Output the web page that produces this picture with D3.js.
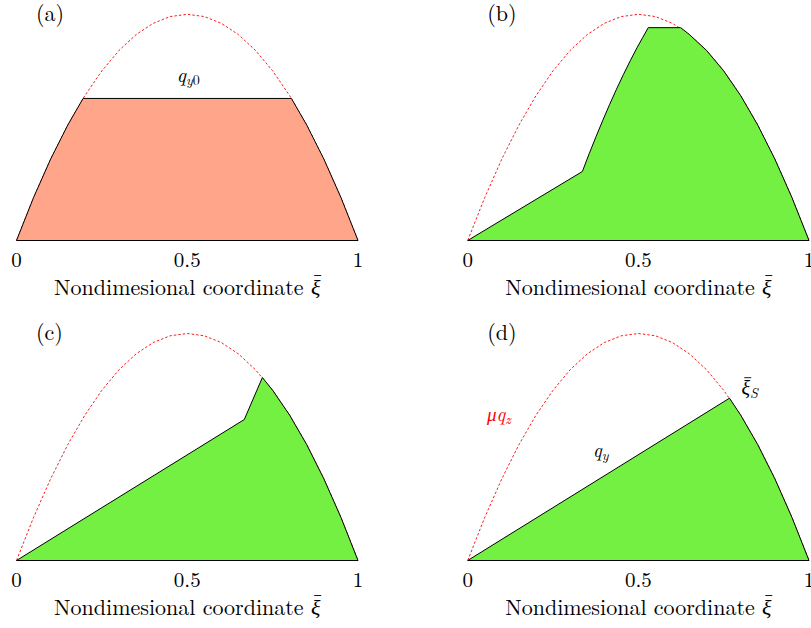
<!DOCTYPE html>
<html>
<head>
<meta charset="utf-8">
<script src="https://cdn.jsdelivr.net/npm/d3@7"></script>
<style>
  body { margin: 0; background: #fff; }
  text { font-family: "Latin Modern Roman", "CMU Serif", "Liberation Serif", serif; fill: #000; }
</style>
</head>
<body>
<script>
// chart data
var panelNames = ["(a)", "(b)", "(c)", "(d)"];
var tickValues = [0, 0.5, 1];
var tickLabels = ["0", "0.5", "1"];

// dashed friction limit mu*q_z
var limitX = [0, 0.05, 0.1, 0.15, 0.2, 0.25, 0.3, 0.35, 0.4, 0.45, 0.5, 0.55, 0.6, 0.65, 0.7, 0.75, 0.8, 0.85, 0.9, 0.95, 1];
var limitQ = [0, 0.19, 0.36, 0.51, 0.64, 0.75, 0.84, 0.91, 0.96, 0.99, 1, 0.99, 0.96, 0.91, 0.84, 0.75, 0.64, 0.51, 0.36, 0.19, 0];

// traction distributions q_y
var aX = [0, 0.05, 0.1, 0.15, 0.195, 0.805, 0.85, 0.9, 0.95, 1];
var aQ = [0, 0.19, 0.36, 0.51, 0.628, 0.628, 0.51, 0.36, 0.19, 0];

var bX = [0, 0.336, 0.356, 0.376, 0.396, 0.416, 0.436, 0.456, 0.476, 0.496, 0.513, 0.529, 0.624, 0.65, 0.7, 0.75, 0.8, 0.85, 0.9, 0.95, 1];
var bQ = [0, 0.305, 0.384, 0.459, 0.532, 0.602, 0.669, 0.733, 0.794, 0.852, 0.898, 0.941, 0.941, 0.91, 0.84, 0.75, 0.64, 0.51, 0.36, 0.19, 0];

var cX = [0, 0.667, 0.72, 0.75, 0.8, 0.85, 0.9, 0.95, 1];
var cQ = [0, 0.621, 0.806, 0.75, 0.64, 0.51, 0.36, 0.19, 0];

var dX = [0, 0.767, 0.8, 0.85, 0.9, 0.95, 1];
var dQ = [0, 0.715, 0.64, 0.51, 0.36, 0.19, 0];

var svgWidth = 811;
var svgHeight = 628;

var svg = d3.select("body")
    .append("svg")
    .attr("width", svgWidth)
    .attr("height", svgHeight);

// put a bar over one character of a text element
function addBar(textSel, charIndex, rise) {
    var node = textSel.node();
    var ext = node.getExtentOfChar(charIndex);
    var base = +textSel.attr("y");
    var cx = ext.x + ext.width / 2 + 2;
    svg.append("line")
        .attr("x1", cx - 3.5)
        .attr("x2", cx + 3.5)
        .attr("y1", base - rise)
        .attr("y2", base - rise)
        .attr("stroke", "#000")
        .attr("stroke-width", 0.9);
}

// panel placement
var panels = [
    { name: panelNames[0], x0: 16.5, x1: 358, y0: 240.5, y1: 14.3, xs: aX, qs: aQ, fill: "#ffa68a" },
    { name: panelNames[1], x0: 467.7, x1: 809, y0: 240.5, y1: 14.3, xs: bX, qs: bQ, fill: "#74f043" },
    { name: panelNames[2], x0: 16.5, x1: 358, y0: 560.5, y1: 333.5, xs: cX, qs: cQ, fill: "#74f043" },
    { name: panelNames[3], x0: 467.7, x1: 809, y0: 560.5, y1: 333.5, xs: dX, qs: dQ, fill: "#74f043" }
];

panels.forEach(function(p, i) {
    var x = d3.scaleLinear().domain([0, 1]).range([p.x0, p.x1]);
    var y = d3.scaleLinear().domain([0, 1]).range([p.y0, p.y1]);
    var g = svg.append("g");

    var line = d3.line()
        .x(d => x(d[0]))
        .y(d => y(d[1]));

    // dashed limit curve
    g.append("path")
        .datum(d3.zip(limitX, limitQ))
        .attr("d", line)
        .attr("fill", "none")
        .attr("stroke", "#ff0000")
        .attr("stroke-width", 0.9)
        .attr("stroke-dasharray", "2.5,2");

    // filled distribution
    g.append("path")
        .attr("d", line(d3.zip(p.xs, p.qs)) + "Z")
        .attr("fill", p.fill)
        .attr("stroke", "#000")
        .attr("stroke-width", 1)
        .attr("stroke-linejoin", "miter");

    // tick labels
    g.selectAll(".tick")
        .data(tickValues)
        .enter()
        .append("text")
        .attr("x", d => x(d))
        .attr("y", p.y0 + 26)
        .attr("text-anchor", "middle")
        .attr("font-size", "21px")
        .text((d, j) => tickLabels[j]);

    // axis label
    var lab = g.append("text")
        .attr("x", x(0.5))
        .attr("y", p.y0 + 54)
        .attr("text-anchor", "middle")
        .attr("font-size", "22px");
    lab.append("tspan").text("Nondimesional coordinate ");
    lab.append("tspan").attr("font-style", "italic").text("\u03BE");
    addBar(lab, 25, 19);

    // panel letter
    g.append("text")
        .attr("x", p.x0 + 19.5)
        .attr("y", p.y1 + 6.5)
        .attr("font-size", "22px")
        .text(p.name);
});

// annotations
var xa = d3.scaleLinear().domain([0, 1]).range([16.5, 358]);
var ya = d3.scaleLinear().domain([0, 1]).range([240.5, 14.3]);
var qy0 = svg.append("text")
    .attr("x", xa(0.5) + 1)
    .attr("y", ya(0.628) - 16)
    .attr("text-anchor", "middle")
    .attr("font-size", "20px");
qy0.append("tspan").attr("font-style", "italic").text("q");
qy0.append("tspan").attr("font-style", "italic").attr("font-size", "14px").attr("dy", 3).text("y");
qy0.append("tspan").attr("font-size", "14px").text("0");

var xd = d3.scaleLinear().domain([0, 1]).range([467.7, 809]);
var yd = d3.scaleLinear().domain([0, 1]).range([560.5, 333.5]);

var xiS = svg.append("text")
    .attr("x", xd(0.767) + 12)
    .attr("y", yd(0.715) - 3)
    .attr("font-size", "20px");
xiS.append("tspan").attr("font-style", "italic").text("\u03BE");
xiS.append("tspan").attr("font-style", "italic").attr("font-size", "14px").attr("dy", 3).text("S");
addBar(xiS, 0, 17.5);

var muq = svg.append("text")
    .attr("x", 487)
    .attr("y", 421)
    .attr("font-size", "19px")
    .style("fill", "#ff0000");
muq.append("tspan").attr("font-style", "italic").style("fill", "#ff0000").text("\u03BCq");
muq.append("tspan").attr("font-style", "italic").attr("font-size", "14px").attr("dy", 3).style("fill", "#ff0000").text("z");

var qy = svg.append("text")
    .attr("x", 593)
    .attr("y", 457)
    .attr("font-size", "19px");
qy.append("tspan").attr("font-style", "italic").text("q");
qy.append("tspan").attr("font-style", "italic").attr("font-size", "14px").attr("dy", 3).text("y");
</script>
</body>
</html>
